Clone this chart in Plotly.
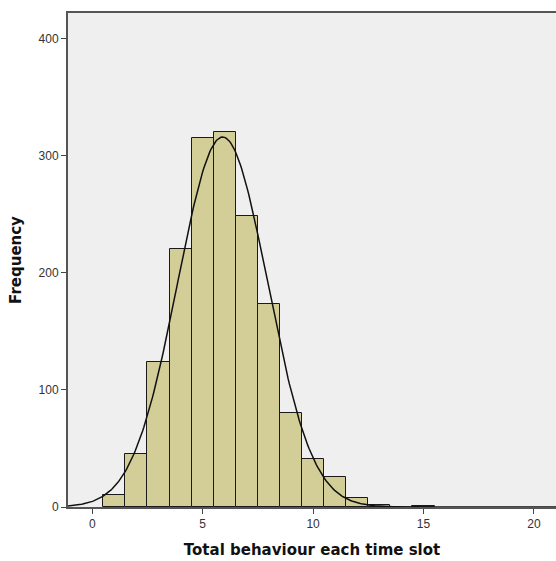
import numpy as np
import plotly.graph_objects as go

# Histogram data (bin centres and counts)
bins = [1, 2, 3, 4, 5, 6, 7, 8, 9, 10, 11, 12, 13, 15]
counts = [10, 45, 124, 220, 315, 320, 249, 173, 80, 41, 26, 8, 2, 1]

x_ticks = [0, 5, 10, 15, 20]
y_ticks = [0, 100, 200, 300, 400]

# Fitted normal curve from the histogram data (as SPSS draws it)
b = np.array(bins, float)
c = np.array(counts, float)
N = c.sum()
mu = (b * c).sum() / N
sd = np.sqrt(((b - mu) ** 2 * c).sum() / N)
xs = np.linspace(-1.1, 21.0, 400)
ys = N * np.exp(-0.5 * ((xs - mu) / sd) ** 2) / (sd * np.sqrt(2 * np.pi))

title_font = dict(family="DejaVu Sans, Verdana, sans-serif", size=15, color="#111111")

fig = go.Figure()
fig.add_trace(go.Bar(
    x=bins, y=counts, width=1,
    marker=dict(color="#D3CE98", line=dict(color="#1a1a1a", width=1)),
    showlegend=False, hoverinfo="x+y",
))
fig.add_trace(go.Scatter(
    x=xs, y=ys, mode="lines",
    line=dict(color="#111111", width=1.5),
    showlegend=False, hoverinfo="skip",
))

fig.update_layout(
    width=556, height=561,
    margin=dict(l=68, r=0, t=13, b=54),
    paper_bgcolor="white",
    plot_bgcolor="#EFEFEF",
    bargap=0,
    font=dict(family="Liberation Sans, Arial, sans-serif", size=12, color="#333333"),
    xaxis=dict(
        range=[-1.1, 21.0],
        tickvals=x_ticks,
        ticks="outside", ticklen=5, tickcolor="#444444", tickwidth=1,
        showgrid=False, zeroline=False,
        showline=True, linecolor="#555555", linewidth=2, mirror=True,
        title=dict(text="<b>Total behaviour each time slot</b>",
                   font=title_font, standoff=14),
    ),
    yaxis=dict(
        range=[0, 422],
        tickvals=y_ticks,
        ticks="outside", ticklen=5, tickcolor="#444444", tickwidth=1,
        showgrid=False, zeroline=False,
        showline=True, linecolor="#555555", linewidth=2,
        title=dict(text="<b>Frequency</b>",
                   font=title_font, standoff=13),
    ),
)

fig.write_html("out.html")
